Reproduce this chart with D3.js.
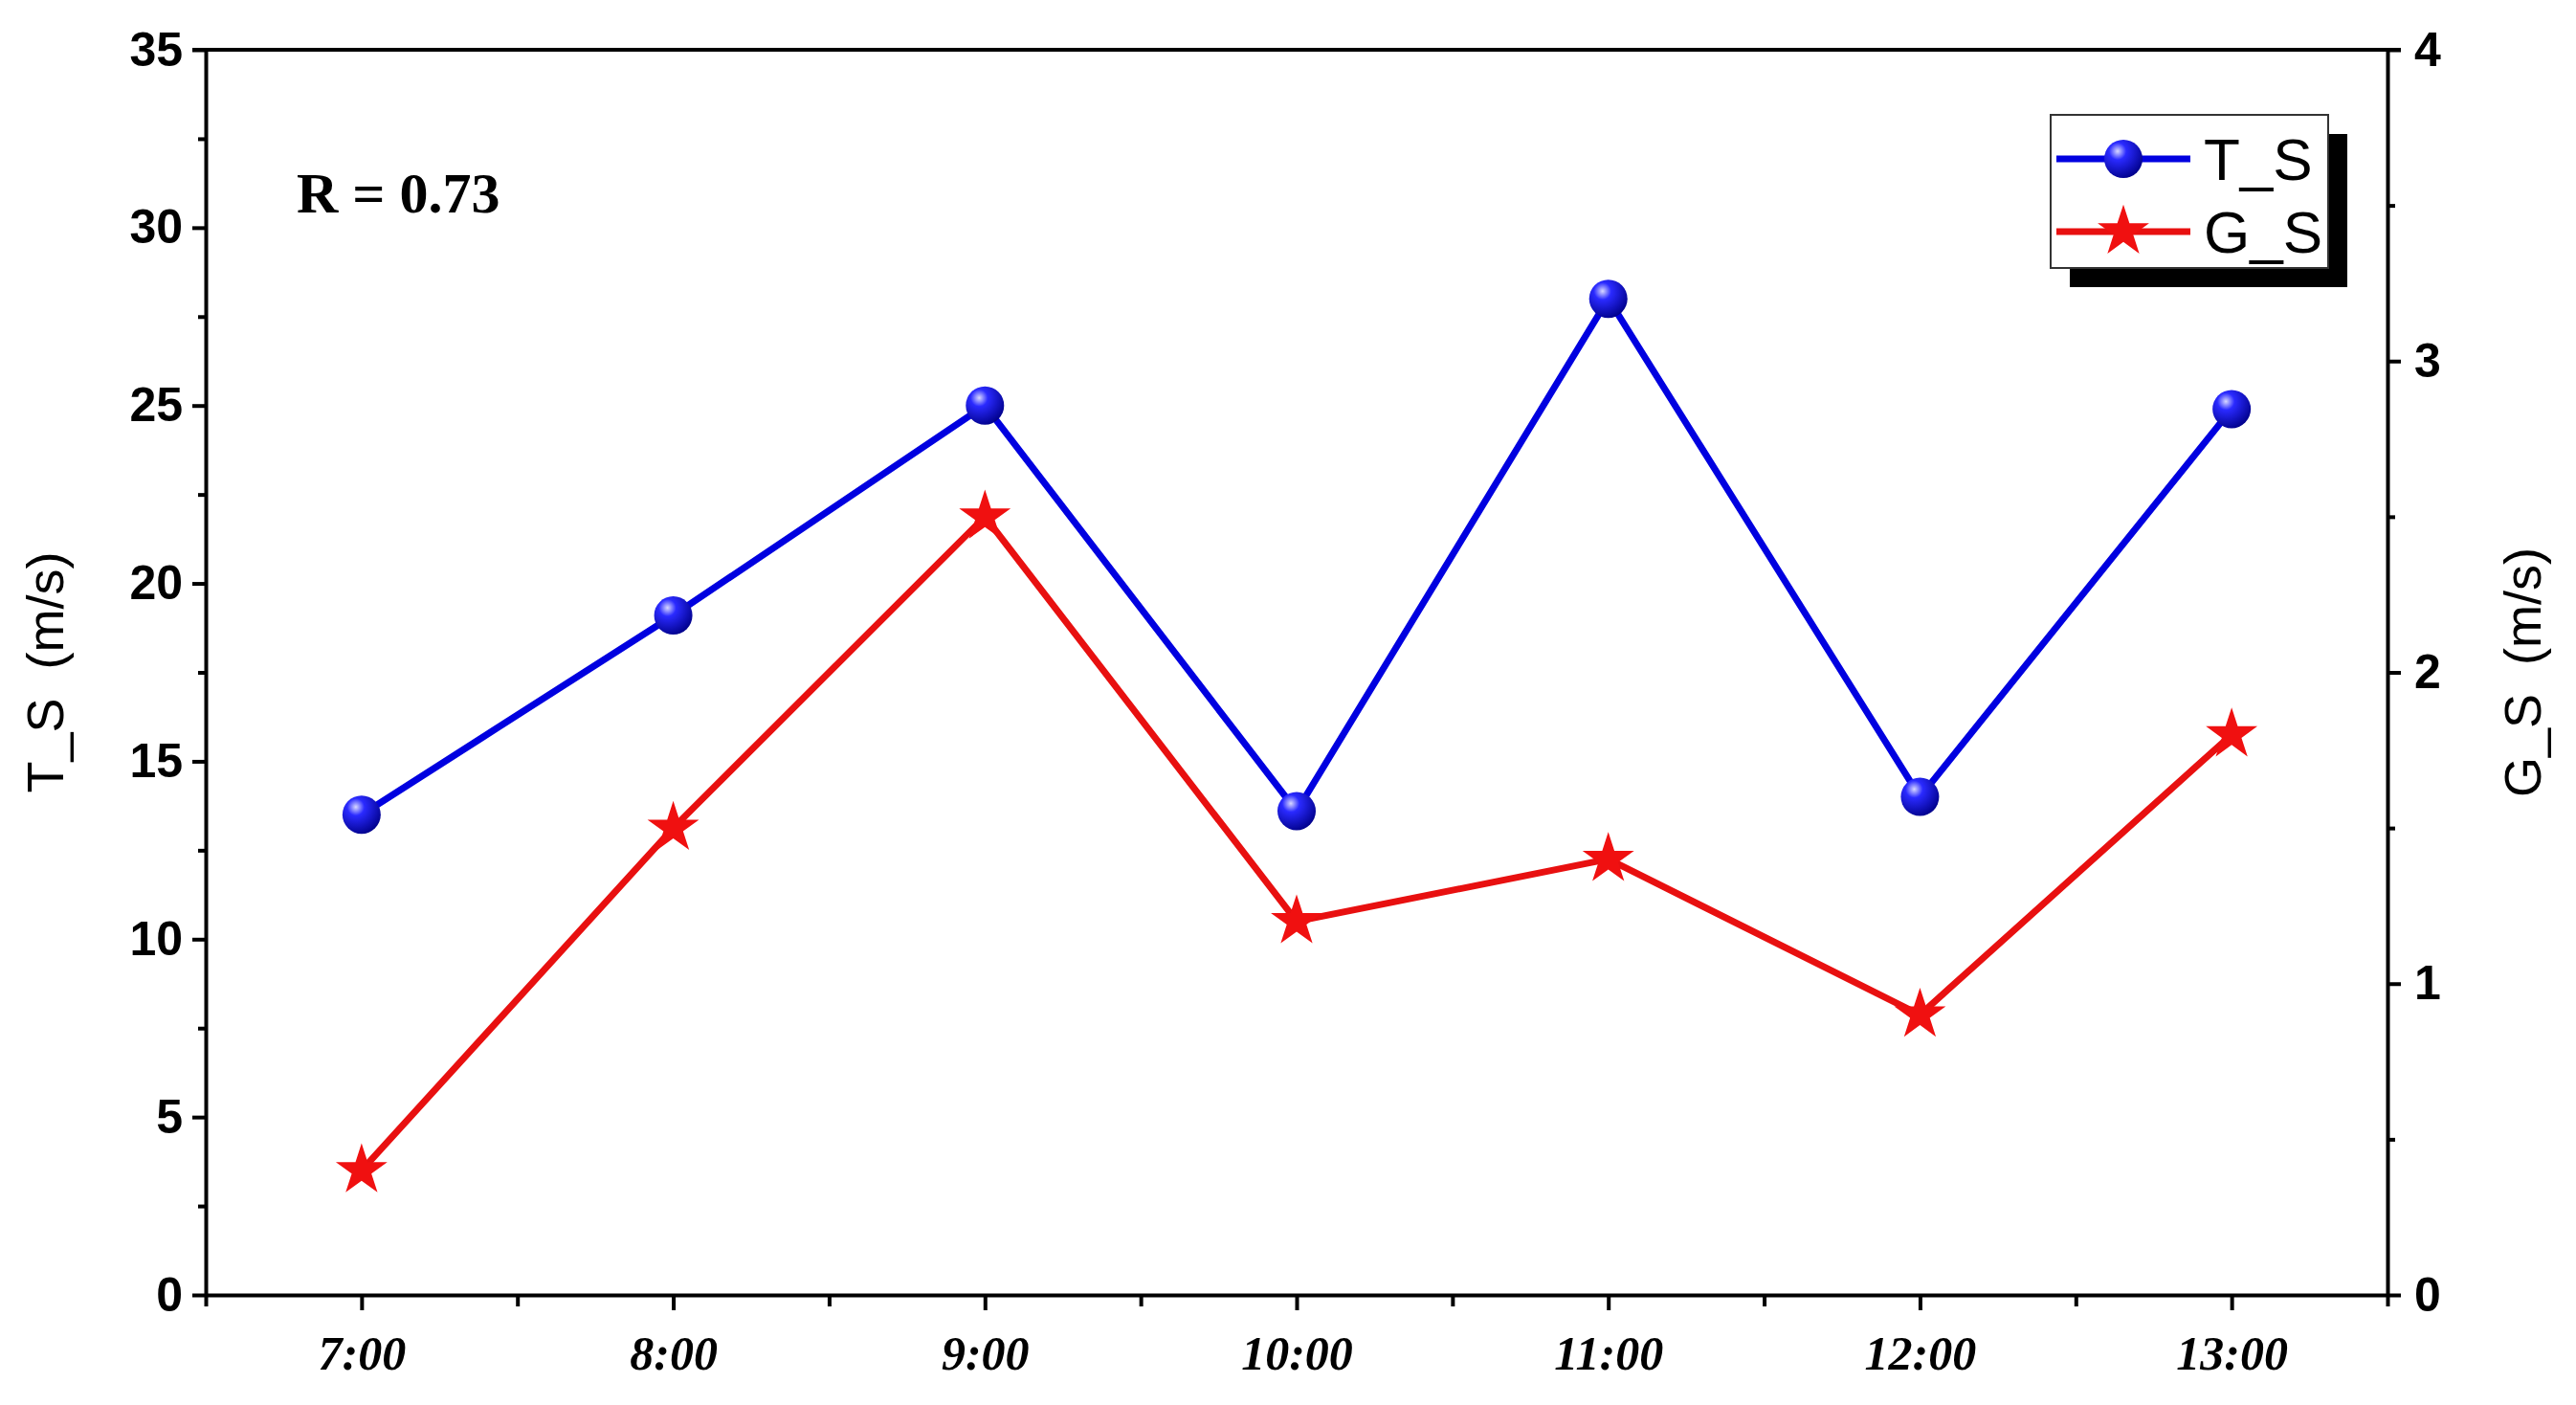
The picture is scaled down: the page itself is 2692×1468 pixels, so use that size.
<!DOCTYPE html>
<html><head><meta charset="utf-8">
<script src="https://cdn.jsdelivr.net/npm/d3@7"></script>
<style>body{margin:0;background:#fff}</style></head>
<body><svg id="c" width="2692" height="1468"></svg>
<script>
const categories = ["7:00","8:00","9:00","10:00","11:00","12:00","13:00"];
const tsValues = [13.5, 19.1, 25.0, 13.6, 28.0, 14.0, 24.9];
const gsValues = [0.4, 1.5, 2.5, 1.2, 1.4, 0.9, 1.8];
const leftTicks = [0,5,10,15,20,25,30,35];
const rightTicks = [0,1,2,3,4];

const svg = d3.select("#c");
const L=215, R=2495, T=52, B=1353;
const x = d3.scaleLinear().domain([-0.5,6.5]).range([L,R]);
const yl = d3.scaleLinear().domain([0,35]).range([B,T]);
const yr = d3.scaleLinear().domain([0,4]).range([B,T]);

const defs = svg.append("defs");
const g = defs.append("radialGradient").attr("id","ball").attr("cx","0.35").attr("cy","0.3").attr("r","0.75");
g.append("stop").attr("offset","0").attr("stop-color","#d8d8ff");
g.append("stop").attr("offset","0.3").attr("stop-color","#2a2aff");
g.append("stop").attr("offset","1").attr("stop-color","#00008a");

const tickFont = "'Liberation Sans Narrow', 'Liberation Sans', Arial, sans-serif";
const plainFont = "'Liberation Sans', Arial, sans-serif";
function styleAxis(sel){
  sel.selectAll("path,line").attr("stroke","#000").attr("stroke-width",4);
  sel.selectAll("text").attr("font-family",tickFont).attr("font-weight","bold").attr("font-size",50).attr("fill","#000");
}
const la = svg.append("g").attr("transform",`translate(${L},0)`)
  .call(d3.axisLeft(yl).tickValues(leftTicks).tickSize(14).tickPadding(10).tickSizeOuter(0));
styleAxis(la);
svg.append("g").attr("transform",`translate(${L},0)`)
  .call(d3.axisLeft(yl).tickValues(d3.range(2.5,35,5)).tickSize(8).tickFormat("").tickSizeOuter(0))
  .call(s=>{s.select("path").remove();s.selectAll("line").attr("stroke","#000").attr("stroke-width",4);});
const ra = svg.append("g").attr("transform",`translate(${R},0)`)
  .call(d3.axisRight(yr).tickValues(rightTicks).tickFormat(d3.format("d")).tickSize(14).tickPadding(14).tickSizeOuter(0));
styleAxis(ra);
svg.append("g").attr("transform",`translate(${R},0)`)
  .call(d3.axisRight(yr).tickValues(d3.range(0.5,4,1)).tickSize(8).tickFormat("").tickSizeOuter(0))
  .call(s=>{s.select("path").remove();s.selectAll("line").attr("stroke","#000").attr("stroke-width",4);});
const ba = svg.append("g").attr("transform",`translate(0,${B})`)
  .call(d3.axisBottom(x).tickValues(d3.range(0,7)).tickFormat(i=>categories[i]).tickSize(16).tickPadding(26).tickSizeOuter(0));
styleAxis(ba);
ba.selectAll("text").attr("font-family","'Liberation Serif', 'Times New Roman', serif").attr("font-style","italic").attr("font-size",50);
svg.append("g").attr("transform",`translate(0,${B})`)
  .call(d3.axisBottom(x).tickValues(d3.range(-0.5,7,1)).tickSize(12).tickFormat("").tickSizeOuter(0))
  .call(s=>{s.select("path").remove();s.selectAll("line").attr("stroke","#000").attr("stroke-width",4);});
svg.append("line").attr("x1",L-14).attr("x2",R+14).attr("y1",T).attr("y2",T).attr("stroke","#000").attr("stroke-width",4);

svg.append("text").attr("transform",`translate(66,${(T+B)/2}) rotate(-90)`).attr("text-anchor","middle")
  .attr("font-family",plainFont).attr("font-size",54).attr("xml:space","preserve").text("T_S  (m/s)");
svg.append("text").attr("transform",`translate(2655,${(T+B)/2}) rotate(-90)`).attr("text-anchor","middle")
  .attr("font-family",plainFont).attr("font-size",54).attr("xml:space","preserve").text("G_S  (m/s)");
svg.append("text").attr("x",310).attr("y",222).attr("font-family","'Liberation Serif', 'Times New Roman', serif")
  .attr("font-weight","bold").attr("font-size",60).text("R = 0.73");

const lineT = d3.line().x((d,i)=>x(i)).y(d=>yl(d));
const lineG = d3.line().x((d,i)=>x(i)).y(d=>yr(d));
svg.append("path").attr("d",lineT(tsValues)).attr("fill","none").attr("stroke","#0000e0").attr("stroke-width",7);
svg.append("path").attr("d",lineG(gsValues)).attr("fill","none").attr("stroke","#e81010").attr("stroke-width",7);
const star = d3.symbol().type(d3.symbolStar).size(900);
svg.selectAll(".gs").data(gsValues).join("path").attr("transform",(d,i)=>`translate(${x(i)},${yr(d)})`)
  .attr("d",star).attr("fill","#f01010");
svg.selectAll(".ts").data(tsValues).join("circle").attr("cx",(d,i)=>x(i)).attr("cy",d=>yl(d)).attr("r",20)
  .attr("fill","url(#ball)");

const lx=2143, ly=120, lw=290, lh=160;
svg.append("rect").attr("x",lx+20).attr("y",ly+20).attr("width",lw).attr("height",lh).attr("fill","#000");
svg.append("rect").attr("x",lx).attr("y",ly).attr("width",lw).attr("height",lh).attr("fill","#fff").attr("stroke","#333").attr("stroke-width",2);
const leg = [{n:"T_S",c:"#0000e0",k:"c"},{n:"G_S",c:"#e81010",k:"s"}];
leg.forEach((d,i)=>{
  const yy = ly+46+i*76;
  svg.append("line").attr("x1",lx+6).attr("x2",lx+146).attr("y1",yy).attr("y2",yy).attr("stroke",d.c).attr("stroke-width",7);
  if(d.k==="c") svg.append("circle").attr("cx",lx+76).attr("cy",yy).attr("r",20).attr("fill","url(#ball)");
  else svg.append("path").attr("transform",`translate(${lx+76},${yy})`).attr("d",star).attr("fill","#f01010");
  svg.append("text").attr("x",lx+160).attr("y",yy+22).attr("font-family",plainFont).attr("font-size",62).text(d.n);
});
</script></body></html>
